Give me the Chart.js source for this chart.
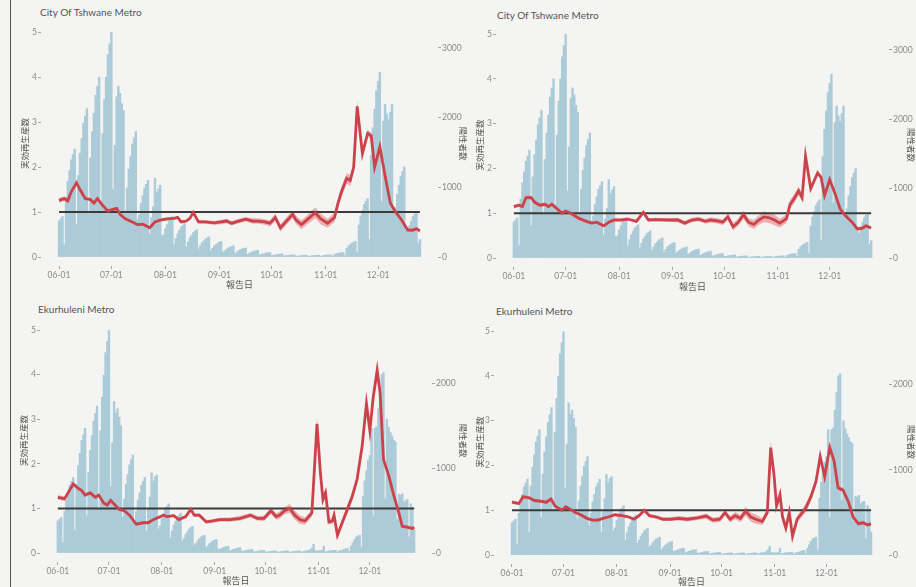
<!DOCTYPE html>
<html lang="ja">
<head>
<meta charset="utf-8">
<title>実効再生産数</title>
<script src="https://cdn.jsdelivr.net/npm/chart.js@4.4.1/dist/chart.umd.min.js"></script>
<style>
  html, body { margin: 0; padding: 0; }
  body { width: 916px; height: 587px; overflow: hidden; position: relative; background: #f4f4f2;
         font-family: Lato, "Noto Sans CJK JP", sans-serif; }
  .edge { position: absolute; left: 10px; top: 0; width: 1px; height: 587px; background: #505050; }
  canvas { position: absolute; }
  .ttl { position: absolute; font-size: 10px; line-height: 12px; color: #555; font-weight: 400; white-space: nowrap; }
</style>
</head>
<body>
<div class="edge"></div>
<div class="ttl" style="left:40px;top:6px">City Of Tshwane Metro</div>
<div class="ttl" style="left:497px;top:9px">City Of Tshwane Metro</div>
<div class="ttl" style="left:38px;top:303px">Ekurhuleni Metro</div>
<div class="ttl" style="left:496px;top:305px">Ekurhuleni Metro</div>
<canvas id="c0" width="458" height="295" style="left:12px;top:0px"></canvas>
<canvas id="c1" width="446" height="297" style="left:470px;top:0px"></canvas>
<canvas id="c2" width="458" height="289" style="left:12px;top:298px"></canvas>
<canvas id="c3" width="446" height="289" style="left:470px;top:298px"></canvas>
<script>
// day 0 = 06-01
const monthStartDays = [0, 30, 61, 92, 122, 153, 183];
const monthLabels = ['06-01', '07-01', '08-01', '09-01', '10-01', '11-01', '12-01'];
const rtTicks = [0, 1, 2, 3, 4, 5];
const refValue = 1;

// daily reported cases
const tshwaneCases = [
  520, 550, 580, 175, 850, 1085, 1240,
  1395, 1470, 1550, 465, 1170, 1490, 1700,
  1920, 2020, 2130, 640, 1420, 1800, 2060,
  2320, 2450, 2580, 775, 1770, 2260, 2580,
  2900, 3060, 3225, 970, 1600, 2300, 2450,
  2350, 2200, 2100, 640, 990, 1260, 1440,
  1620, 1710, 1800, 540, 605, 770, 880,
  990, 1045, 1100, 330, 565, 720, 1130,
  930, 980, 1030, 310, 320, 405, 465,
  520, 550, 580, 175, 265, 335, 385,
  430, 455, 480, 145, 215, 275, 310,
  350, 370, 390, 115, 160, 205, 230,
  260, 275, 290, 85, 125, 160, 180,
  200, 215, 225, 70, 90, 110, 130,
  145, 150, 160, 50, 70, 90, 105,
  115, 125, 130, 40, 50, 65, 75,
  85, 90, 95, 30, 35, 45, 50,
  60, 62, 65, 20, 25, 30, 36,
  40, 43, 45, 14, 18, 22, 26,
  29, 30, 32, 10, 14, 18, 21,
  23, 25, 26, 8, 14, 18, 21,
  23, 25, 26, 8, 18, 22, 26,
  29, 30, 32, 10, 36, 45, 52,
  60, 62, 65, 20, 125, 160, 180,
  200, 215, 225, 70, 460, 590, 670,
  755, 800, 840, 250, 1460, 1855, 2120,
  2385, 2520, 2650, 795, 1950, 2190, 2050,
  1970, 2080, 2190, 655, 710, 900, 1030,
  1160, 1225, 1290, 385, 355, 450, 515,
  580, 615, 645, 195, 250
];
const ekurhuleniCases = [
  380, 400, 420, 125, 490, 625, 710,
  800, 845, 890, 265, 810, 1030, 1175,
  1325, 1395, 1470, 440, 950, 1210, 1385,
  1555, 1645, 1730, 520, 1440, 1835, 2095,
  2360, 2490, 2620, 785, 1300, 1785, 1650,
  1700, 1600, 1500, 420, 635, 810, 925,
  1040, 1100, 1155, 345, 490, 625, 710,
  800, 845, 890, 265, 520, 660, 945,
  850, 900, 920, 285, 320, 405, 465,
  520, 550, 580, 175, 260, 330, 375,
  425, 445, 470, 140, 175, 220, 250,
  285, 300, 315, 95, 115, 145, 170,
  190, 200, 210, 63, 88, 112, 128,
  145, 152, 160, 48, 44, 56, 64,
  72, 76, 80, 24, 35, 44, 50,
  57, 60, 63, 19, 23, 29, 34,
  38, 40, 42, 13, 18, 22, 26,
  29, 30, 32, 10, 14, 18, 21,
  23, 25, 26, 8, 14, 18, 21,
  23, 25, 26, 8, 14, 18, 21,
  23, 25, 26, 8, 20, 25, 28,
  30, 40, 60, 105, 30, 25, 28,
  26, 35, 80, 12, 20, 25, 28,
  30, 32, 32, 10, 25, 30, 35,
  45, 50, 55, 18, 80, 120, 160,
  190, 200, 210, 65, 665, 850, 970,
  1090, 1150, 1470, 440, 1470, 1490, 1700,
  1910, 2100, 2125, 640, 1575, 1480, 1420,
  1380, 1330, 1310, 395, 690, 680, 700,
  600, 620, 630, 190, 580, 540, 270
];
// cases that match one unit of Rt on the left axis
const tshwanePerUnit = 645;
const ekurhuleniPerUnit = 525;
const tshwaneCaseTicks = [0, 1000, 2000, 3000];
const ekurhuleniCaseTicks = [0, 1000, 2000];

// [day, Rt, half width of band]
const tshwaneRtA = [
  [0,1.26,.05],[3,1.30,.05],[5,1.25,.05],[7,1.45,.05],[10,1.65,.05],[12,1.5,.04],[15,1.3,.04],
  [18,1.28,.04],[20,1.2,.04],[22,1.3,.04],[25,1.15,.04],[28,1.02,.04],[30,1.05,.04],[33,1.08,.03],
  [35,0.95,.03],[38,0.85,.03],[42,0.78,.03],[45,0.72,.03],[48,0.73,.03],[52,0.65,.03],[55,0.78,.03],
  [58,0.82,.03],[62,0.85,.03],[66,0.86,.03],[68,0.88,.03],[70,0.78,.03],[73,0.8,.03],[75,0.86,.03],
  [77,0.99,.04],[80,0.78,.04],[84,0.78,.04],[89,0.76,.04],[93,0.78,.05],[96,0.8,.05],[99,0.75,.05],
  [103,0.8,.05],[107,0.84,.05],[111,0.8,.06],[114,0.8,.06],[118,0.78,.06],[121,0.75,.07],[124,0.88,.08],
  [127,0.65,.08],[130,0.78,.08],[134,0.95,.09],[136,0.82,.09],[139,0.72,.1],[142,0.82,.1],[145,0.92,.12],
  [147,0.98,.12],[150,0.85,.12],[154,0.75,.1],[158,0.88,.1],[160,1.2,.1],[162,1.45,.12],[165,1.75,.12],
  [167,1.7,.12],[169,2.0,.1],[171,3.35,.12],[174,2.3,.08],[177,2.75,.08],[179,2.7,.07],[181,2.0,.06],
  [184,2.45,.05],[187,1.8,.04],[190,1.2,.04],[193,1.0,.04],[196,0.85,.04],[200,0.6,.04],[203,0.6,.04],
  [205,0.63,.04],[207,0.58,.04]
];
const tshwaneRtB = [
  [0,1.15,.04],[3,1.18,.04],[5,1.15,.04],[7,1.35,.04],[10,1.35,.04],[12,1.25,.04],[15,1.18,.04],
  [18,1.2,.04],[20,1.15,.04],[22,1.2,.04],[25,1.1,.04],[28,1.0,.03],[30,1.05,.03],[33,1.0,.03],
  [35,0.95,.03],[38,0.88,.03],[42,0.82,.03],[45,0.78,.03],[48,0.8,.03],[52,0.72,.03],[55,0.8,.03],
  [58,0.85,.03],[62,0.85,.03],[66,0.87,.03],[68,0.85,.03],[71,0.82,.03],[75,1.02,.04],[78,0.85,.04],
  [82,0.86,.04],[89,0.85,.04],[95,0.85,.05],[99,0.78,.05],[103,0.85,.05],[107,0.87,.05],[111,0.82,.05],
  [114,0.85,.06],[118,0.83,.06],[121,0.8,.06],[124,0.92,.07],[127,0.7,.08],[130,0.8,.08],[133,0.97,.09],
  [136,0.8,.09],[139,0.75,.1],[142,0.85,.1],[145,0.92,.12],[148,0.9,.12],[151,0.85,.12],[154,0.78,.1],
  [158,0.88,.1],[160,1.2,.1],[162,1.3,.1],[165,1.5,.1],[167,1.35,.08],[169,2.27,.08],[172,1.55,.06],
  [176,1.9,.05],[178,1.8,.05],[180,1.4,.05],[183,1.75,.04],[186,1.45,.04],[189,1.1,.04],[192,0.95,.04],
  [196,0.8,.04],[199,0.65,.04],[202,0.67,.04],[204,0.72,.04],[207,0.67,.04]
];
const ekurhuleniRtA = [
  [0,1.25,.05],[4,1.22,.05],[6,1.35,.05],[9,1.55,.05],[12,1.45,.04],[14,1.4,.04],[16,1.3,.04],
  [19,1.35,.04],[22,1.25,.04],[24,1.3,.04],[27,1.12,.04],[29,1.08,.04],[31,1.18,.04],[33,1.1,.03],
  [36,0.98,.03],[39,0.95,.03],[42,0.85,.03],[46,0.65,.03],[50,0.68,.03],[53,0.68,.03],[56,0.75,.03],
  [59,0.8,.03],[62,0.85,.03],[64,0.82,.03],[68,0.84,.03],[71,0.75,.03],[75,0.82,.03],[78,0.98,.04],
  [80,0.85,.04],[83,0.85,.04],[87,0.7,.04],[91,0.72,.04],[95,0.75,.04],[101,0.75,.05],[107,0.78,.05],
  [113,0.85,.05],[117,0.78,.05],[121,0.78,.06],[125,0.95,.07],[128,0.82,.07],[130,0.85,.08],[133,0.95,.08],
  [136,1.0,.1],[139,0.85,.1],[142,0.75,.1],[145,0.72,.08],[149,0.9,.08],[152,2.9,.15],[154,1.8,.1],
  [155.5,1.2,.08],[157,1.35,.08],[159,0.7,.06],[161,0.72,.06],[162,0.85,.06],[164,0.4,.06],[167,0.7,.08],
  [170,1.0,.1],[172.5,1.25,.1],[175.5,1.65,.1],[178.5,2.4,.1],[181,3.35,.1],[183,2.75,.08],[185,3.5,.08],
  [187.3,4.1,.08],[189,3.6,.06],[191,2.1,.05],[194,1.75,.05],[197,1.3,.04],[200,0.9,.04],[202,0.6,.04],
  [205,0.58,.04],[208,0.55,.04],[209,0.58,.04]
];
const ekurhuleniRtB = [
  [0,1.18,.04],[4,1.15,.04],[6.5,1.3,.04],[10,1.28,.04],[13,1.22,.04],[17,1.2,.04],[20,1.18,.04],
  [22.7,1.25,.04],[25,1.1,.04],[29,1.0,.03],[31.4,1.08,.03],[34,1.02,.03],[37,0.95,.03],[40,0.9,.03],
  [43.7,0.82,.03],[47,0.78,.03],[50,0.78,.03],[53,0.82,.03],[56,0.85,.03],[60,0.9,.03],[64,0.88,.03],
  [68,0.85,.03],[71,0.8,.03],[74,0.88,.03],[77,1.0,.04],[80,0.88,.04],[84,0.85,.04],[88,0.8,.04],
  [92,0.8,.04],[97,0.82,.05],[102,0.8,.05],[108,0.83,.05],[113,0.87,.06],[117,0.78,.06],[121,0.8,.06],
  [124,0.95,.07],[127,0.8,.07],[130,0.88,.08],[133,0.82,.08],[136,0.98,.1],[139,0.85,.1],[142,0.8,.1],
  [145.7,0.75,.08],[148.6,0.95,.08],[150.6,2.4,.15],[152.5,1.8,.1],[154,1.1,.08],[156,1.35,.08],
  [157.5,0.85,.06],[159.4,0.6,.06],[161.4,0.95,.06],[163.3,0.42,.06],[166,0.8,.08],[168,0.9,.08],
  [171,1.05,.1],[174,1.3,.1],[177,1.65,.1],[179.4,2.2,.1],[182,1.75,.08],[185,2.4,.08],[187.5,2.1,.06],
  [189.8,1.5,.05],[192.7,1.45,.05],[195.7,1.2,.04],[198.6,0.85,.04],[201.6,0.7,.04],[204.5,0.72,.04],
  [207,0.67,.04],[209,0.7,.04]
];

// layout: canvas = [left, top, width, height], area = [left, top, right, bottom] (page px)
const panels = [
  { id: 'c0', cases: tshwaneCases, perUnit: tshwanePerUnit, caseTicks: tshwaneCaseTicks, rt: tshwaneRtA,
    canvas: [12, 0, 458, 295], area: [41, 21, 438, 266], padL: 8, padR: 2, padX: 5 },
  { id: 'c1', cases: tshwaneCases, perUnit: tshwanePerUnit, caseTicks: tshwaneCaseTicks, rt: tshwaneRtB,
    canvas: [470, 0, 446, 297], area: [496, 23, 889, 267], padL: 5, padR: 0, padX: 5 },
  { id: 'c2', cases: ekurhuleniCases, perUnit: ekurhuleniPerUnit, caseTicks: ekurhuleniCaseTicks, rt: ekurhuleniRtA,
    canvas: [12, 298, 458, 289], area: [40, 319, 432, 562], padL: 7, padR: 2, padX: 1 },
  { id: 'c3', cases: ekurhuleniCases, perUnit: ekurhuleniPerUnit, caseTicks: ekurhuleniCaseTicks, rt: ekurhuleniRtB,
    canvas: [470, 298, 446, 289], area: [494, 320, 889, 564], padL: 5, padR: 0, padX: 0 }
];

const FONT = 'Lato, "Noto Sans CJK JP", sans-serif';
const tickFont = { family: FONT, size: 8.5 };
const titleFont = { family: FONT, size: 8.5 };
const tickColor = '#8a8a8a';
const labelColor = '#555';
const rtMin = -0.2, rtMax = 5.25;

function drawPanel(p) {
  const [cl, ct, cw, ch] = p.canvas;
  const [al, at, ar, ab] = p.area;
  const lastDay = p.cases.length - 1;
  const pad = lastDay * 0.05;

  const bars = p.cases.map((v, i) => ({ x: i, y: v }));
  const rtLine = p.rt.map(r => ({ x: r[0], y: r[1] }));
  const rtLow = p.rt.map(r => ({ x: r[0], y: r[1] - r[2] }));
  const rtHigh = p.rt.map(r => ({ x: r[0], y: r[1] + r[2] }));
  const ref = [{ x: 0, y: refValue }, { x: lastDay, y: refValue }];

  const lineBase = { type: 'line', yAxisID: 'y', pointRadius: 0, tension: 0 };

  new Chart(document.getElementById(p.id), {
    type: 'bar',
    data: {
      datasets: [
        { ...lineBase, data: rtLow, borderWidth: 0, fill: false, order: 5 },
        { ...lineBase, data: rtHigh, borderWidth: 0, fill: '-1', backgroundColor: 'rgba(228,118,122,0.55)', order: 4 },
        { ...lineBase, data: ref, borderColor: '#3b3b3b', borderWidth: 2, order: 2 },
        { ...lineBase, data: rtLine, borderColor: '#cc424b', borderWidth: 2.8, order: 1 },
        { type: 'bar', yAxisID: 'y1', data: bars, backgroundColor: 'rgb(172,203,216)', borderWidth: 0,
          barPercentage: 1, categoryPercentage: 1, order: 10 }
      ]
    },
    options: {
      responsive: false,
      animation: false,
      events: [],
      layout: { padding: { top: at - ct, left: 0, right: 0, bottom: 0 } },
      plugins: { legend: { display: false }, tooltip: { enabled: false } },
      scales: {
        x: {
          type: 'linear', min: -pad, max: lastDay + pad, offset: false,
          afterBuildTicks: s => { s.ticks = monthStartDays.map(v => ({ value: v })); },
          afterFit: s => { s.height = ct + ch - ab; },
          ticks: { callback: v => monthLabels[monthStartDays.indexOf(v)], font: tickFont, color: tickColor,
                   padding: 1, maxRotation: 0, autoSkip: false },
          grid: { drawOnChartArea: false, tickLength: 3, color: '#a5a5a5', offset: false },
          border: { display: false },
          title: { display: true, text: '報告日', font: { family: FONT, size: 9 }, color: labelColor,
                   padding: { top: 0, bottom: p.padX } }
        },
        y: {
          position: 'left', min: rtMin, max: rtMax,
          afterBuildTicks: s => { s.ticks = rtTicks.map(v => ({ value: v })); },
          afterFit: s => { s.width = al - cl; },
          ticks: { callback: v => String(v), font: tickFont, color: tickColor, padding: 1 },
          grid: { drawOnChartArea: false, tickLength: 3, color: '#a5a5a5' },
          border: { display: false },
          title: { display: true, text: '実効再生産数', font: titleFont, color: labelColor,
                   padding: { top: p.padL, bottom: 0 } }
        },
        y1: {
          position: 'right', min: rtMin * p.perUnit, max: rtMax * p.perUnit,
          afterBuildTicks: s => { s.ticks = p.caseTicks.map(v => ({ value: v })); },
          afterFit: s => { s.width = cl + cw - ar; },
          ticks: { callback: v => String(v), font: tickFont, color: tickColor, padding: 1 },
          grid: { drawOnChartArea: false, tickLength: 3, color: '#a5a5a5' },
          border: { display: false },
          title: { display: true, text: '陽性者数', font: titleFont, color: labelColor,
                   padding: { top: p.padR, bottom: 0 } }
        }
      }
    }
  });
}

panels.forEach(drawPanel);
</script>
</body>
</html>
